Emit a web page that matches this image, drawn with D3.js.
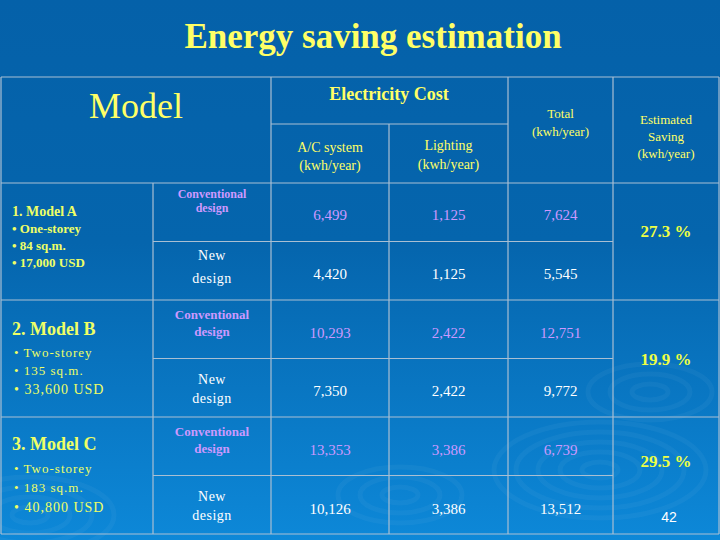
<html><head>
  <script src="https://d3js.org/d3.v7.min.js"></script>
  <style>
    body { margin: 0; }
    text { font-family: 'Liberation Serif', 'Times New Roman', serif; }
  </style>
</head>
<body>
  <script>
    // Table data
    const models = ["Model A", "Model B", "Model C"]
    const modelInfo = [
      ["1. Model A", "• One-storey", "• 84 sq.m.", "• 17,000 USD"],
      ["2. Model B", "• Two-storey", "• 135 sq.m.", "• 33,600 USD"],
      ["3. Model C", "• Two-storey", "• 183 sq.m.", "• 40,800 USD"]
    ]
    const designs = ["Conventional design", "New design"]
    const acValues = [6499, 4420, 10293, 7350, 13353, 10126]
    const lightingValues = [1125, 1125, 2422, 2422, 3386, 3386]
    const totals = [7624, 5545, 12751, 9772, 6739, 13512]
    const savings = ["27.3 %", "19.9 %", "29.5 %"]

    const W = 720, H = 540
    const svg = d3.select("body").append("svg")
                  .attr("width", W).attr("height", H)

    // background gradient
    const defs = svg.append("defs")
    const grad = defs.append("linearGradient").attr("id", "bg")
                     .attr("x1", 0).attr("y1", 0).attr("x2", 0).attr("y2", 1)
    grad.append("stop").attr("offset", "0%").attr("stop-color", "#0561a9")
    grad.append("stop").attr("offset", "45%").attr("stop-color", "#0565ad")
    grad.append("stop").attr("offset", "100%").attr("stop-color", "#0d88d8")
    svg.append("rect").attr("width", W).attr("height", H).attr("fill", "url(#bg)")

    // faint ripples
    const ripples = [[600, 470, 5], [400, 495, 3], [650, 392, 3], [30, 515, 4]]
    ripples.forEach(r => {
      d3.range(r[2]).forEach(i => {
        svg.append("ellipse")
           .attr("cx", r[0]).attr("cy", r[1])
           .attr("rx", 18 + i * 22).attr("ry", 8 + i * 10)
           .attr("fill", "none")
           .attr("stroke", "rgba(255,255,255,0.04)")
           .attr("stroke-width", 5)
      })
    })

    // Title
    svg.append("text")
       .attr("x", 373).attr("y", 48)
       .attr("text-anchor", "middle")
       .attr("fill", "#ffff66")
       .style("font-size", "35px").style("font-weight", "bold")
       .text("Energy saving estimation")

    // column edges and row scale
    const cols = ["model", "design", "ac", "light", "total", "saving", "end"]
    const colX = d3.scaleOrdinal().domain(cols).range([1, 153, 271, 389, 508, 613, 719])
    const colMid = c => (colX(c) + colX(cols[cols.indexOf(c) + 1])) / 2
    const rowY = d3.scaleBand().domain(d3.range(6)).range([183, 534])
    const tableTop = 77, subTop = 124

    const lineColor = "#a9bfd3"
    const grid = svg.append("g").attr("stroke", lineColor).attr("stroke-width", 1.2)
    const hline = (x1, x2, y) => grid.append("line").attr("x1", x1).attr("x2", x2).attr("y1", y).attr("y2", y)
    const vline = (x, y1, y2) => grid.append("line").attr("x1", x).attr("x2", x).attr("y1", y1).attr("y2", y2)

    // header lines
    const bottom = rowY(5) + rowY.bandwidth()
    hline(colX("model"), colX("end"), tableTop)
    hline(colX("ac"), colX("total"), subTop)
    hline(colX("model"), colX("end"), rowY(0))
    vline(colX("model"), tableTop, bottom)
    vline(colX("ac"), tableTop, bottom)
    vline(colX("light"), subTop, bottom)
    vline(colX("total"), tableTop, bottom)
    vline(colX("saving"), tableTop, bottom)
    vline(colX("end"), tableTop, bottom)
    vline(colX("design"), rowY(0), bottom)
    d3.range(6).forEach(i => {
      const y = rowY(i) + rowY.bandwidth()
      if (i % 2 == 1) hline(colX("model"), colX("end"), y)
      else hline(colX("design"), colX("saving"), y)
    })

    // header text
    const yellow = "#ffff66"
    svg.append("text").attr("x", 136).attr("y", 118).attr("text-anchor", "middle")
       .attr("fill", yellow).style("font-size", "36px").text("Model")
    svg.append("text").attr("x", colX("light")).attr("y", 100).attr("text-anchor", "middle")
       .attr("fill", yellow).style("font-size", "18px").style("font-weight", "bold").text("Electricity Cost")
    const headLines = [
      ["ac", ["A/C system", "(kwh/year)"], [152, 170], "normal", 14],
      ["light", ["Lighting", "(kwh/year)"], [150, 169], "normal", 14],
      ["total", ["Total", "(kwh/year)"], [118, 136], "normal", 13],
      ["saving", ["Estimated", "Saving", "(kwh/year)"], [124, 141, 158], "normal", 13]
    ]
    headLines.forEach(h => {
      h[1].forEach((t, i) => {
        svg.append("text").attr("x", colMid(h[0])).attr("y", h[2][i])
           .attr("text-anchor", "middle").attr("fill", yellow)
           .style("font-size", h[4] + "px").style("font-weight", h[3]).text(t)
      })
    })

    // model descriptions
    const modelLayout = [
      { y: [216, 233, 250, 267], size: [14, 13, 13, 13], spacing: 0, x: 12 },
      { y: [335, 357, 375, 394], size: [18, 13, 13, 14], spacing: 1, x: 14 },
      { y: [450, 473, 492, 512], size: [18, 13, 13, 14], spacing: 1, x: 14 }
    ]
    modelInfo.forEach((lines, m) => {
      lines.forEach((t, i) => {
        svg.append("text").attr("x", i == 0 ? 12 : modelLayout[m].x).attr("y", modelLayout[m].y[i])
           .attr("fill", "#eeff66")
           .style("font-size", modelLayout[m].size[i] + "px")
           .style("font-weight", i == 0 || m == 0 ? "bold" : "normal")
           .style("letter-spacing", i == 0 ? "0px" : modelLayout[m].spacing + "px")
           .text(t)
      })
    })

    // design cells and values
    const violet = "#cc99ff"
    const fmt = d3.format(",")
    d3.range(6).forEach(i => {
      const conv = i % 2 == 0
      const y0 = rowY(i)
      const color = conv ? violet : "#ffffff"
      const words = designs[i % 2].split(" ")
      let dy
      if (conv) dy = i == 0 ? [15, 29] : [19, 36]
      else dy = i == 1 ? [18, 41] : [25, 44]
      words.forEach((w, k) => {
        svg.append("text").attr("x", colMid("design")).attr("y", y0 + dy[k])
           .attr("text-anchor", "middle").attr("fill", color)
           .style("font-size", conv ? (i == 0 ? "12px" : "13px") : "14px")
           .style("font-weight", conv ? "bold" : "normal")
           .style("letter-spacing", conv ? "0px" : "0.5px")
           .text(w)
      })
      const vy = y0 + (conv ? (i == 0 ? 37 : 38) : (i == 5 ? 38 : 37))
      const vals = [["ac", acValues[i]], ["light", lightingValues[i]], ["total", totals[i]]]
      vals.forEach(v => {
        svg.append("text").attr("x", colMid(v[0])).attr("y", vy)
           .attr("text-anchor", "middle").attr("fill", color)
           .style("font-size", "15px")
           .text(fmt(v[1]))
      })
    })

    // savings
    const savingY = [237, 365, 467]
    savings.forEach((s, m) => {
      svg.append("text").attr("x", colMid("saving")).attr("y", savingY[m])
         .attr("text-anchor", "middle").attr("fill", "#eeff44")
         .style("font-size", "17px").style("font-weight", "bold").text(s)
    })

    // page number
    svg.append("text").attr("x", 669).attr("y", 522).attr("text-anchor", "middle")
       .attr("fill", "#ffffff").style("font-family", "'Liberation Sans', Arial, sans-serif")
       .style("font-size", "14px").text("42")
  </script>
</body></html>
